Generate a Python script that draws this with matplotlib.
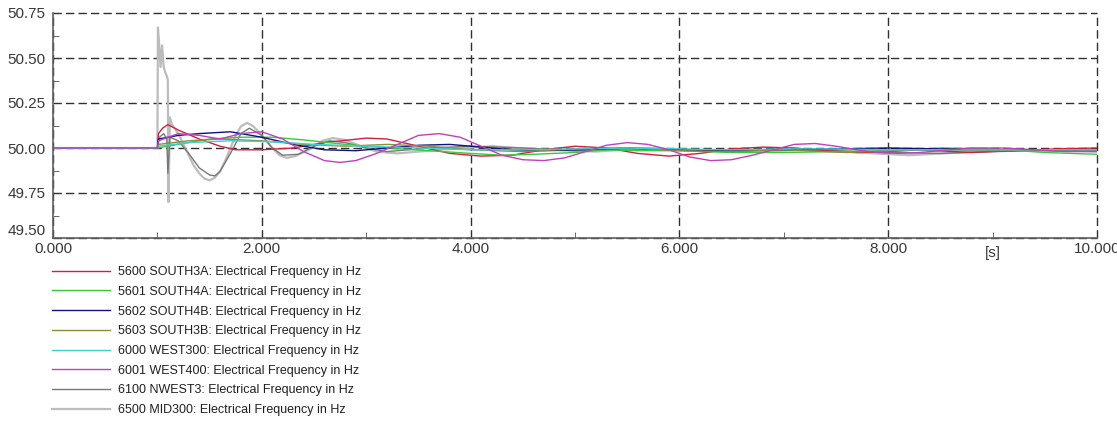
import matplotlib
matplotlib.use('Agg')
import matplotlib.pyplot as plt
from matplotlib.ticker import FixedLocator, FixedFormatter

plt.rcParams['font.family'] = ['Liberation Sans', 'DejaVu Sans']

# time [s] / frequency [Hz], one pair of lists per bus
# (the fault happens at t = 1 s, all buses sit at 50 Hz before that)
t_5600 = [0, 1.0, 1.01, 1.05, 1.1, 1.2, 1.4, 1.6, 1.75, 2.0, 2.3, 2.6, 3.0, 3.2, 3.5, 3.8, 4.1, 4.4,
          4.7, 5.0, 5.3, 5.6, 5.9, 6.2, 6.5, 6.8, 7.1, 7.4, 7.7, 8.0, 8.3, 8.8, 9.2, 9.6, 10.0]
f_5600 = [50.0, 50.0, 50.08, 50.11, 50.13, 50.10, 50.05, 50.01, 49.99, 49.99, 50.0, 50.03, 50.055,
          50.05, 50.01, 49.97, 49.955, 49.96, 49.99, 50.01, 50.0, 49.97, 49.955, 49.97, 49.995,
          50.005, 50.0, 49.985, 49.975, 49.98, 49.99, 49.975, 49.985, 49.995, 50.0]

t_5601 = [0, 1.0, 1.2, 1.5, 1.8, 2.1, 2.4, 2.8, 3.2, 3.6, 4.0, 4.3, 4.6, 5.0, 5.3, 5.6, 6.0, 6.5,
          7.0, 7.5, 8.0, 8.5, 9.0, 9.5, 10.0]
f_5601 = [50.0, 50.0, 50.02, 50.05, 50.06, 50.06, 50.045, 50.02, 50.0, 49.985, 49.97, 49.96, 49.965,
          49.975, 49.99, 49.985, 49.985, 49.975, 49.975, 49.98, 49.985, 50.0, 49.995, 49.975, 49.965]

t_5602 = [0, 1.0, 1.01, 1.2, 1.4, 1.7, 2.0, 2.3, 2.6, 2.9, 3.2, 3.5, 3.8, 4.1, 4.4, 4.7, 5.0, 5.5,
          6.0, 6.5, 7.0, 7.5, 8.0, 8.5, 9.0, 9.5, 10.0]
f_5602 = [50.0, 50.0, 50.05, 50.07, 50.08, 50.09, 50.06, 50.02, 49.99, 49.985, 50.0, 50.015, 50.02,
          50.005, 49.99, 49.985, 49.99, 50.0, 49.99, 49.985, 49.99, 49.995, 50.0, 49.995, 49.99,
          49.99, 49.99]

t_5603 = [0, 1.0, 1.01, 1.3, 1.6, 2.0, 2.4, 2.8, 3.2, 3.6, 4.0, 4.5, 5.0, 5.5, 6.0, 6.5, 7.0, 7.6,
          8.0, 8.5, 9.0, 9.5, 10.0]
f_5603 = [50.0, 50.0, 50.02, 50.04, 50.05, 50.04, 50.02, 50.01, 50.02, 50.01, 49.99, 49.98, 49.995,
          50.0, 49.985, 49.98, 49.99, 49.975, 49.985, 49.99, 49.985, 49.99, 49.99]

t_6000 = [0, 1.0, 1.01, 1.3, 1.7, 2.1, 2.5, 3.0, 3.5, 4.0, 4.5, 5.0, 5.5, 6.0, 6.5, 7.0, 7.5, 8.0,
          9.0, 10.0]
f_6000 = [50.0, 50.0, 50.01, 50.03, 50.04, 50.035, 50.02, 50.01, 50.0, 49.99, 49.99, 49.995, 50.0,
          49.995, 49.99, 49.995, 49.995, 49.99, 49.99, 49.99]

t_6001 = [0, 1.0, 1.01, 1.2, 1.4, 1.6, 1.8, 2.0, 2.2, 2.4, 2.6, 2.75, 2.9, 3.1, 3.3, 3.5, 3.7, 3.9,
          4.1, 4.3, 4.5, 4.7, 4.9, 5.1, 5.3, 5.5, 5.7, 5.9, 6.1, 6.3, 6.5, 6.7, 6.9, 7.1, 7.3, 7.5,
          7.7, 7.9, 8.1, 8.3, 8.5, 8.8, 9.1, 9.4, 9.7, 10.0]
f_6001 = [50.0, 50.0, 50.04, 50.08, 50.07, 50.05, 50.08, 50.09, 50.05, 49.98, 49.93, 49.92, 49.93,
          49.97, 50.02, 50.07, 50.08, 50.06, 50.01, 49.96, 49.935, 49.93, 49.945, 49.98, 50.015,
          50.03, 50.02, 49.99, 49.95, 49.93, 49.935, 49.96, 49.99, 50.02, 50.025, 50.01, 49.99,
          49.975, 49.97, 49.975, 49.985, 50.0, 50.0, 49.99, 49.98, 49.98]

t_6100 = [0, 1.0, 1.02, 1.06, 1.09, 1.1, 1.12, 1.2, 1.3, 1.4, 1.5, 1.55, 1.6, 1.7, 1.8, 1.88, 2.0,
          2.1, 2.2, 2.35, 2.5, 2.65, 2.8, 3.0, 3.2, 3.6, 4.0, 4.5, 5.0, 5.5, 6.0, 6.5, 7.0, 7.5,
          8.0, 8.5, 9.0, 9.5, 10.0]
f_6100 = [50.0, 50.0, 50.06, 50.08, 50.05, 49.86, 50.06, 50.04, 49.97, 49.89, 49.85, 49.845, 49.87,
          49.97, 50.08, 50.11, 50.07, 50.0, 49.96, 49.965, 50.01, 50.04, 50.03, 50.0, 49.98, 50.0,
          50.01, 50.0, 49.985, 49.995, 49.99, 49.985, 49.99, 49.985, 49.975, 49.97, 49.98, 49.985,
          49.98]

t_6500 = [0, 1.0, 1.005, 1.02, 1.03, 1.045, 1.06, 1.075, 1.09, 1.1, 1.105, 1.12, 1.14, 1.2, 1.25,
          1.3, 1.35, 1.4, 1.45, 1.5, 1.55, 1.6, 1.65, 1.7, 1.75, 1.8, 1.86, 1.92, 2.0, 2.1, 2.17,
          2.24, 2.32, 2.45, 2.58, 2.68, 2.8, 2.95, 3.1, 3.3, 3.7, 4.2, 4.7, 5.2, 5.7, 6.2, 6.7,
          7.2, 7.7, 8.2, 8.7, 9.2, 9.7, 10.0]
f_6500 = [50.0, 50.0, 50.67, 50.55, 50.45, 50.57, 50.45, 50.42, 50.40, 50.38, 49.70, 50.17, 50.13,
          50.08, 50.02, 49.96, 49.90, 49.86, 49.83, 49.82, 49.835, 49.87, 49.93, 50.0, 50.07,
          50.12, 50.14, 50.12, 50.07, 50.0, 49.96, 49.945, 49.955, 49.99, 50.04, 50.055, 50.045,
          50.01, 49.98, 49.97, 49.99, 50.01, 49.99, 49.98, 50.0, 49.985, 49.98, 49.99, 49.975,
          49.96, 49.975, 49.99, 49.985, 49.985]

labels = ['5600 SOUTH3A: Electrical Frequency in Hz',
          '5601 SOUTH4A: Electrical Frequency in Hz',
          '5602 SOUTH4B: Electrical Frequency in Hz',
          '5603 SOUTH3B: Electrical Frequency in Hz',
          '6000 WEST300: Electrical Frequency in Hz',
          '6001 WEST400: Electrical Frequency in Hz',
          '6100 NWEST3: Electrical Frequency in Hz',
          '6500 MID300: Electrical Frequency in Hz']
colors = ['#d0203c', '#3cc83c', '#101080', '#8c8c3c', '#3cd0d0', '#c040c0', '#787878', '#bcbcbc']

series = [(t_5600, f_5600), (t_5601, f_5601), (t_5602, f_5602), (t_5603, f_5603),
          (t_6000, f_6000), (t_6001, f_6001), (t_6100, f_6100), (t_6500, f_6500)]

fig = plt.figure(figsize=(11.17, 4.26), dpi=100)
ax = fig.add_axes([53/1117, 1-238/426, (1097-53)/1117, (238-13)/426])

# light grey (MID300) drawn underneath, the rest on top
order = [7, 6, 0, 1, 2, 3, 4, 5]
handles = [None]*8
for i in order:
    t, f = series[i]
    lw = 1.6 if i == 7 else 1.0
    handles[i], = ax.plot(t, f, color=colors[i], lw=lw, label=labels[i], zorder=2 + (i != 7))

ax.set_xlim(0, 10)
ax.set_ylim(49.5, 50.75)

ax.xaxis.set_major_locator(FixedLocator([0, 2, 4, 6, 8, 10]))
ax.xaxis.set_major_formatter(FixedFormatter(['0.000', '2.000', '4.000', '6.000', '8.000', '10.000']))
ax.xaxis.set_minor_locator(FixedLocator([1, 3, 5, 7, 9]))
ax.xaxis.set_minor_formatter(FixedFormatter(['', '', '', '', '[s]']))
ax.yaxis.set_major_locator(FixedLocator([49.5, 49.75, 50.0, 50.25, 50.5, 50.75]))
ax.yaxis.set_major_formatter(FixedFormatter(['49.50', '49.75', '50.00', '50.25', '50.50', '50.75']))
ax.yaxis.set_minor_locator(FixedLocator([49.625, 49.875, 50.125, 50.375, 50.625]))

ax.tick_params(which='major', length=0, labelsize=11, colors='#505050', labelcolor='#383838')
ax.tick_params(axis='x', which='major', pad=3)
ax.tick_params(axis='y', which='major', pad=5.5)
ax.tick_params(which='minor', direction='in', length=4, color='#505050', labelsize=11,
               labelcolor='#383838', pad=6)

ax.grid(True, which='major', color='#303030', linestyle=(0, (6, 3)), lw=1.0, zorder=1)
ax.set_axisbelow(True)
for gl in ax.get_xgridlines() + ax.get_ygridlines():
    gl.set_clip_on(False)
for s in ['top', 'right']:
    ax.spines[s].set_visible(False)
for s in ['left', 'bottom']:
    ax.spines[s].set_color('#606060')
    ax.spines[s].set_linewidth(1.2)
    ax.spines[s].set_zorder(4)

# nudge the bottom-left y label up a bit so it clears the 0.000 label, as in the source
ax.get_yticklabels()[0].set_verticalalignment('bottom')

fig.legend(handles=handles, labels=labels, loc='upper left',
           bbox_to_anchor=(52/1117, 1-266/426), frameon=False, fontsize=9,
           handlelength=4.6, handletextpad=0.7, labelspacing=0.62,
           borderpad=0, borderaxespad=0, labelcolor='#202020')

fig.savefig('out.png', dpi=100)
